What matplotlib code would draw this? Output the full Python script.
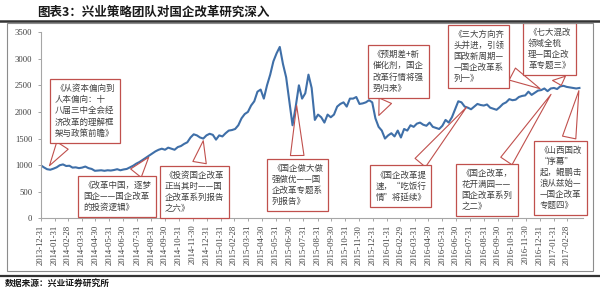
import numpy as np
import pandas as pd
import matplotlib
matplotlib.use("Agg")
import matplotlib.pyplot as plt
import matplotlib.dates as mdates
from matplotlib.patches import Rectangle
from matplotlib.lines import Line2D

plt.rcParams['font.family'] = ['Noto Sans CJK SC', 'DejaVu Sans']

# weekly index level, starting 2013-12-31
start = "2013-12-31"
values = [
    1000,
    960, 925, 915, 935,             # 2014-01
    960, 1000, 1015, 985,
    990, 955, 960, 945,
    955, 975, 945, 930, 895,
    900, 905, 895, 905,
    900, 910, 925, 905,
    920, 930, 960, 990, 1030,
    1060, 1100, 1140, 1180,
    1220, 1260, 1290, 1310, 1290,
    1330, 1310, 1290, 1340,
    1360, 1400, 1430, 1520,
    1580, 1560, 1520, 1500, 1560,
    1590, 1570, 1480, 1560,         # 2015-01
    1540, 1600, 1650, 1660,
    1680, 1750, 1880, 1960, 2000,
    2120, 2200, 2380, 2420,
    2250, 2500, 2700, 2950,
    3100, 3220, 2900, 2650, 2200,
    1750, 2100, 2500, 2250,
    2350, 2700, 2450, 1850,
    1950, 1900, 1800, 1950, 1900,
    1950, 2100, 2150, 2180,
    2100, 2250, 2250, 2280,
    2150, 2160, 2180, 2220, 2180,
    1880, 1720, 1650, 1500,         # 2016-01
    1560, 1600, 1540, 1650,
    1520, 1680, 1650, 1750, 1720,
    1780, 1800, 1760, 1740,
    1800, 1720, 1700, 1680, 1740,
    1850, 1800, 1900, 2050,
    2200, 2180, 2100, 2080,
    2050, 2100, 2150, 2130, 2120,
    2140, 2080, 2060, 2040,
    2090, 2150, 2180, 2240,
    2220, 2230, 2280, 2300, 2310,
    2380, 2320, 2360, 2400,
    2410, 2440, 2390, 2440, 2450,   # 2017-01
    2430, 2480, 2490, 2470,
    2460, 2450, 2440, 2450,
]
dates = pd.date_range(start, periods=len(values), freq="7D")

yticks = [0, 500, 1000, 1500, 2000, 2500, 3000, 3500]
xticks = pd.date_range(start, periods=39, freq=pd.offsets.MonthEnd())

notes = [
    "《从资本偏向到\n人本偏向：十\n八届三中全会经\n济改革的理解框\n架与政策前瞻》",
    "《改革中国，逐梦\n国企——国企改革\n的投资逻辑》",
    "《投资国企改革\n正当其时——国\n企改革系列报告\n之六》",
    "《国企做大做\n强做优——国\n企改革专题系\n列报告》",
    "《预期差+新\n催化剂，国企\n改革行情将强\n势归来》",
    "《国企改革提\n速，“吃饭行\n情”将延续》",
    "《三大方向齐\n头并进，引领\n国改新周期—\n—国企改革系\n列一》",
    "《国企改革，\n花开满园——\n国企改革系列\n之二》",
    "《七大混改\n领域全梳\n理—国企改\n革专题三》",
    "《山西国改\n“序幕”\n起，鲲鹏击\n浪从兹始—\n—国企改革\n专题四》",
]
note_dates = ["2014-01-16", "2014-08-29", "2014-12-24", "2015-07-16", "2016-01-10",
              "2016-07-27", "2017-01-06", "2017-01-28", "2017-02-18", "2017-03-28"]
note_values = [948, 1190, 1511, 2173, 1886, 2130, 2412, 2374, 2449, 2450]
box_pos = [("2014-04-07", 2018), ("2014-06-17", 413), ("2014-12-04", 497),
           ("2015-07-18", 629), ("2016-02-24", 2759), ("2016-03-01", 610),
           ("2016-08-19", 3041), ("2016-09-06", 535), ("2017-01-21", 3181),
           ("2017-02-15", 760)]

blue = "#3F6FA8"
red = "#C0504D"
grey = "#A6A6A6"

fig = plt.figure(figsize=(6, 2.9), dpi=100)
ax = fig.add_axes([0.0678, 0.2466, 0.904, 0.643])

ax.plot(dates, values, color=blue, lw=1.5, zorder=2)

ax.set_ylim(0, 3500)
ax.set_xlim(pd.Timestamp(start), pd.Timestamp("2017-04-05"))
ax.set_yticks(yticks)
ax.set_xticks(xticks)
ax.xaxis.set_major_formatter(mdates.DateFormatter("%Y-%m-%d"))
for s in ["top", "right"]:
    ax.spines[s].set_visible(False)
for s in ["left", "bottom"]:
    ax.spines[s].set_color(grey)
    ax.spines[s].set_linewidth(0.8)
ax.tick_params(axis="both", colors=grey, length=2.5, width=0.7)
ax.tick_params(axis="x", labelrotation=90, pad=2)
for lab in ax.get_xticklabels() + ax.get_yticklabels():
    lab.set_fontfamily("Liberation Serif")
    lab.set_fontsize(6.2)
    lab.set_color("#404040")

for txt, d, v, (bd, bv) in zip(notes, note_dates, note_values, box_pos):
    ax.annotate(txt, xy=(pd.Timestamp(d), v), xytext=(pd.Timestamp(bd), bv),
                textcoords="data", ha="center", va="center", multialignment="left",
                fontsize=6.1, color="#404040", linespacing=1.3, zorder=5,
                bbox=dict(boxstyle="square,pad=0.6", fc="white", ec=red, lw=0.9),
                arrowprops=dict(arrowstyle="wedge,tail_width=1.6,shrink_factor=0.5",
                                fc="white", ec=red, lw=0.8))

# frame, rules and text outside the axes
fig.add_artist(Rectangle((7 / 600, 1 - 271 / 290), 586 / 600, 248 / 290,
                         transform=fig.transFigure, fill=False, ec="#8C8C8C", lw=0.8))
fig.add_artist(Line2D([0, 1], [1 - 21 / 290] * 2, transform=fig.transFigure,
                      color="#333333", lw=1.8))
fig.add_artist(Line2D([0, 1], [1 - 276 / 290] * 2, transform=fig.transFigure,
                      color="#333333", lw=1.6))
fig.text(0.255, 1 - 12 / 290, "图表3：兴业策略团队对国企改革研究深入", ha="center", va="center",
         fontsize=9, fontweight="bold", color="#1A1A1A")
fig.text(5 / 600, 1 - 284 / 290, "数据来源：兴业证券研究所", ha="left", va="center",
         fontsize=6.3, fontweight="bold", color="#1A1A1A")

fig.savefig("out.png", dpi=100)
